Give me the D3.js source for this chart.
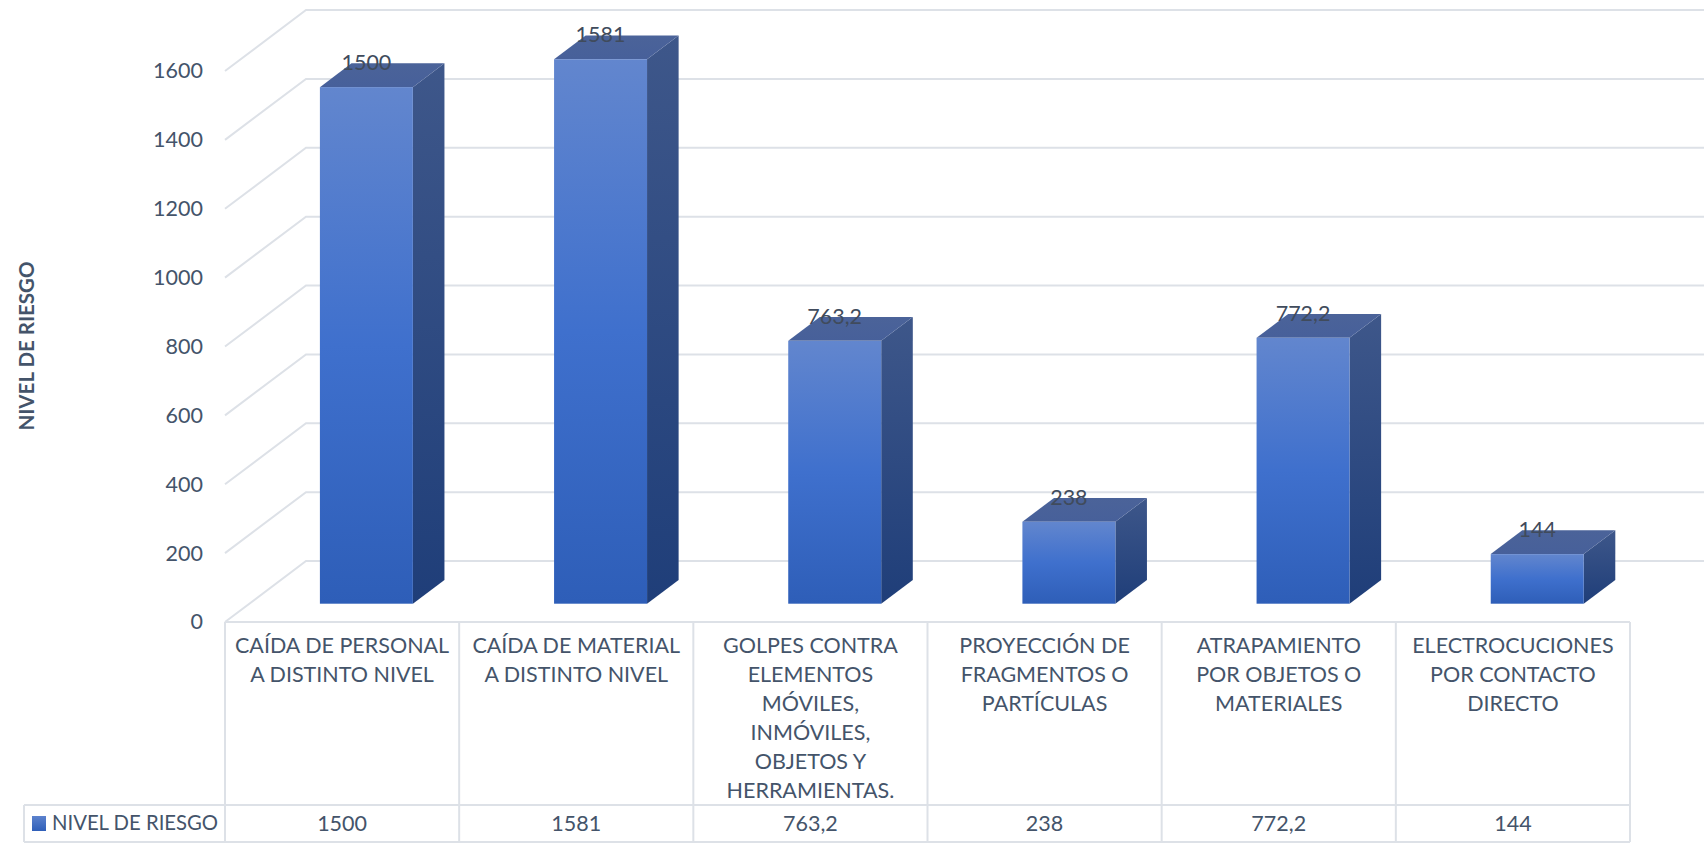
<!DOCTYPE html>
<html>
<head>
<meta charset="utf-8">
<script src="https://cdn.jsdelivr.net/npm/d3@7"></script>
<style>
  html, body { margin: 0; padding: 0; background: #ffffff; }
  svg { display: block; font-family: Lato, "Open Sans", sans-serif; }
</style>
</head>
<body>
<svg id="chart" width="1704" height="843"></svg>
<script>
// Risk level per hazard type
const categories = [
  "CAÍDA DE PERSONAL A DISTINTO NIVEL",
  "CAÍDA DE MATERIAL A DISTINTO NIVEL",
  "GOLPES CONTRA ELEMENTOS MÓVILES, INMÓVILES, OBJETOS Y HERRAMIENTAS.",
  "PROYECCIÓN DE FRAGMENTOS O PARTÍCULAS",
  "ATRAPAMIENTO POR OBJETOS O MATERIALES",
  "ELECTROCUCIONES POR CONTACTO DIRECTO"
];
const categoryLines = [
  ["CAÍDA DE PERSONAL", "A DISTINTO NIVEL"],
  ["CAÍDA DE MATERIAL", "A DISTINTO NIVEL"],
  ["GOLPES CONTRA", "ELEMENTOS", "MÓVILES,", "INMÓVILES,", "OBJETOS Y", "HERRAMIENTAS."],
  ["PROYECCIÓN DE", "FRAGMENTOS O", "PARTÍCULAS"],
  ["ATRAPAMIENTO", "POR OBJETOS O", "MATERIALES"],
  ["ELECTROCUCIONES", "POR CONTACTO", "DIRECTO"]
];
const seriesName = "NIVEL DE RIESGO";
const values = [1500, 1581, 763.2, 238, 772.2, 144];
const yTicks = [0, 200, 400, 600, 800, 1000, 1200, 1400, 1600];
const yTitle = "NIVEL DE RIESGO";

const svg = d3.select("#chart");
const W = 1704;
const textColor = "#44546a";
const gridColor = "#dde1e7";

// number formatting with decimal comma
const locale = d3.formatLocale({ decimal: ",", thousands: ".", grouping: [3], currency: ["", ""] });
const fmt = locale.format(".1~f");

// plot geometry: front plane plus an oblique depth vector
const left = 225, right = 1630;
const depthDX = 81, depthDY = -61;
const barFront = 0.3, barBack = 0.69;

const x = d3.scaleBand().domain(categories).range([left, right]).paddingInner(0).paddingOuter(0);
const y = d3.scaleLinear().domain([0, 1600]).range([622, 71]);
const barW = x.bandwidth() * 0.397;

const proj = (px, py, f) => [px + depthDX * f, py + depthDY * f];

// gradients
const defs = svg.append("defs");
function vGrad(id, stops) {
  const g = defs.append("linearGradient").attr("id", id)
    .attr("x1", 0).attr("y1", 0).attr("x2", 0).attr("y2", 1);
  stops.forEach(([o, c]) => g.append("stop").attr("offset", o).attr("stop-color", c));
}
vGrad("frontGrad", [[0, "#6286ce"], [0.5, "#3f70cd"], [1, "#2e5eb8"]]);
vGrad("sideGrad", [[0, "#3e578a"], [1, "#1f3e79"]]);
vGrad("topGrad", [[0, "#4b6399"], [1, "#47609a"]]);
vGrad("legendGrad", [[0, "#5c82cd"], [1, "#2f5fb9"]]);

// side wall and back wall gridlines
const grid = svg.append("g").attr("fill", "none").attr("stroke", gridColor).attr("stroke-width", 2);
yTicks.forEach(t => {
  const [bx, by] = proj(left, y(t), 1);
  grid.append("path").attr("d", `M${left},${y(t)}L${bx},${by}L${W},${by}`);
});

// y axis labels on the front plane
const yAxis = d3.axisLeft(y).tickValues(yTicks).tickSize(0).tickPadding(22).tickFormat(d3.format("d"));
const ag = svg.append("g").attr("transform", `translate(${left},0)`).call(yAxis);
ag.select(".domain").remove();
ag.selectAll("text").attr("fill", textColor).style("font-size", "21.5px").style("font-family", "Lato, sans-serif");

// y title
svg.append("text")
  .attr("transform", `translate(34,346) rotate(-90)`)
  .attr("text-anchor", "middle")
  .attr("fill", textColor)
  .style("font-size", "20.5px").style("font-weight", "bold")
  .text(yTitle);

// 3D bars
const bars = svg.append("g");
values.forEach((v, i) => {
  const c = categories[i];
  const x0 = x(c) + (x.bandwidth() - barW) / 2;
  const x1 = x0 + barW;
  const yt = y(v), yb = y(0);
  const ftl = proj(x0, yt, barFront), ftr = proj(x1, yt, barFront);
  const fbr = proj(x1, yb, barFront), fbl = proj(x0, yb, barFront);
  const btl = proj(x0, yt, barBack), btr = proj(x1, yt, barBack);
  const bbr = proj(x1, yb, barBack);
  const g = bars.append("g");
  g.append("path").attr("d", `M${ftr}L${btr}L${bbr}L${fbr}Z`).attr("fill", "url(#sideGrad)");
  g.append("path").attr("d", `M${ftl}L${ftr}L${btr}L${btl}Z`).attr("fill", "url(#topGrad)");
  g.append("rect")
    .attr("x", ftl[0]).attr("y", ftl[1])
    .attr("width", barW).attr("height", fbl[1] - ftl[1])
    .attr("fill", "url(#frontGrad)");
  g.append("text")
    .attr("x", (ftl[0] + ftr[0]) / 2).attr("y", ftl[1] - 17)
    .attr("text-anchor", "middle").attr("fill", "#404b5c")
    .style("font-size", "21.5px")
    .text(fmt(v));
});

// data table
const rowTop = 622, rowMid = 805, rowBot = 842, legLeft = 24;
const tbl = svg.append("g").attr("stroke", gridColor).attr("stroke-width", 2).attr("fill", "none");
tbl.append("path").attr("d", `M${left},${rowTop}H${right}`);
tbl.append("path").attr("d", `M${legLeft},${rowMid}H${right}`);
tbl.append("path").attr("d", `M${legLeft},${rowBot}H${right}`);
tbl.append("path").attr("d", `M${legLeft},${rowMid}V${rowBot}`);
categories.forEach(c => tbl.append("path").attr("d", `M${x(c)},${rowTop}V${rowBot}`));
tbl.append("path").attr("d", `M${right},${rowTop}V${rowBot}`);

const catG = svg.append("g").attr("fill", textColor).attr("text-anchor", "middle").style("font-size", "21.5px");
categories.forEach((c, i) => {
  const cx = x(c) + x.bandwidth() / 2;
  categoryLines[i].forEach((line, j) => {
    catG.append("text").attr("x", cx).attr("y", 645 + j * 29).attr("dy", "0.35em").text(line);
  });
  catG.append("text").attr("x", cx).attr("y", 823).attr("dy", "0.35em").text(fmt(values[i]));
});

// legend key in the table
svg.append("rect").attr("x", 32).attr("y", 816).attr("width", 14).attr("height", 15).attr("fill", "url(#legendGrad)");
svg.append("text").attr("x", 52).attr("y", 823).attr("dy", "0.35em")
  .attr("fill", textColor).style("font-size", "20.3px").text(seriesName);
</script>
</body>
</html>
